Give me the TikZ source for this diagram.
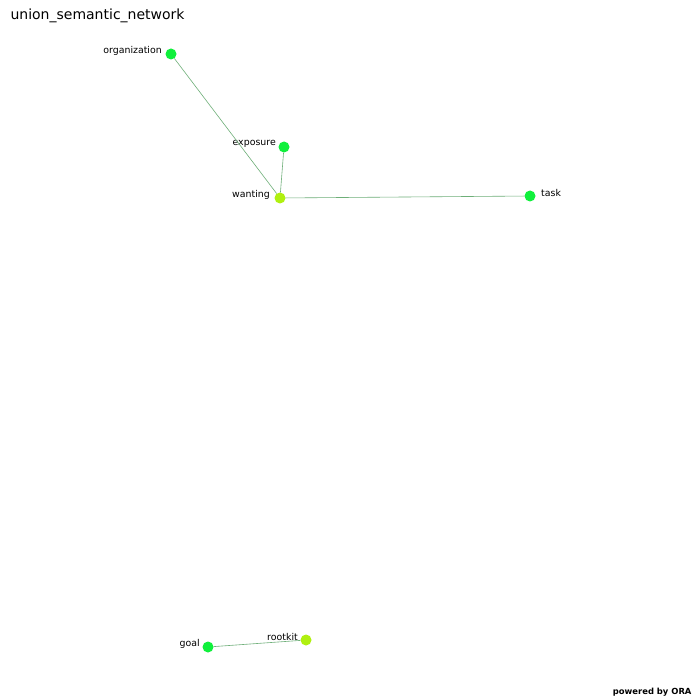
\documentclass[tikz,border=0pt]{standalone}
\usepackage{fontspec}
\setmainfont{DejaVu Sans}
\usepackage{xcolor}
\usepackage{tikz}
\usetikzlibrary{positioning}
\definecolor{oragreen}{RGB}{16,240,60}
\definecolor{oralime}{RGB}{176,240,16}
\definecolor{oraedge}{RGB}{110,175,120}

\begin{document}
\begin{tikzpicture}[x=1pt,y=-1pt,font=\fontsize{9.4}{10}\selectfont]
	\tikzset{concept/.style={circle,fill=oragreen,inner sep=0pt,minimum size=11pt}}
	\tikzset{agent/.style={concept,fill=oralime}}
	\tikzset{link/.style={draw=oraedge,line width=0.6pt}}
	\tikzset{tag/.style={inner sep=1pt}}
	\useasboundingbox[fill=white] (0,0) rectangle (700,700);

% title and footer
\node[anchor=west,font=\fontsize{14}{16}\selectfont] (title) at (7,16) {union\_semantic\_network};
\node[anchor=east,font=\bfseries\fontsize{8.4}{10}\selectfont] (footer) at (695,692) {powered by ORA};

% nodes
\node[concept] (organization) at (171,54) {};
\node[concept] (exposure) at (284,147) {};
\node[agent] (wanting) at (280,198) {};
\node[concept] (task) at (530,196) {};
\node[concept] (goal) at (208,647) {};
\node[agent] (rootkit) at (306,640) {};

% labels
\node[tag,anchor=east] (organizationlbl) at (163,51) {organization};
\node[tag,anchor=east] (exposurelbl) at (277,144) {exposure};
\node[tag,anchor=east] (wantinglbl) at (271,195) {wanting};
\node[tag,anchor=west] (tasklbl) at (540,193) {task};
\node[tag,anchor=east] (goallbl) at (201,644) {goal};
\node[tag,anchor=east] (rootkitlbl) at (299,637) {rootkit};

% edges
\draw[link] (organization) -- (wanting);
\draw[link] (exposure) -- (wanting);
\draw[link] (wanting) -- (task);
\draw[link] (goal) -- (rootkit);

\end{tikzpicture}
\end{document}
